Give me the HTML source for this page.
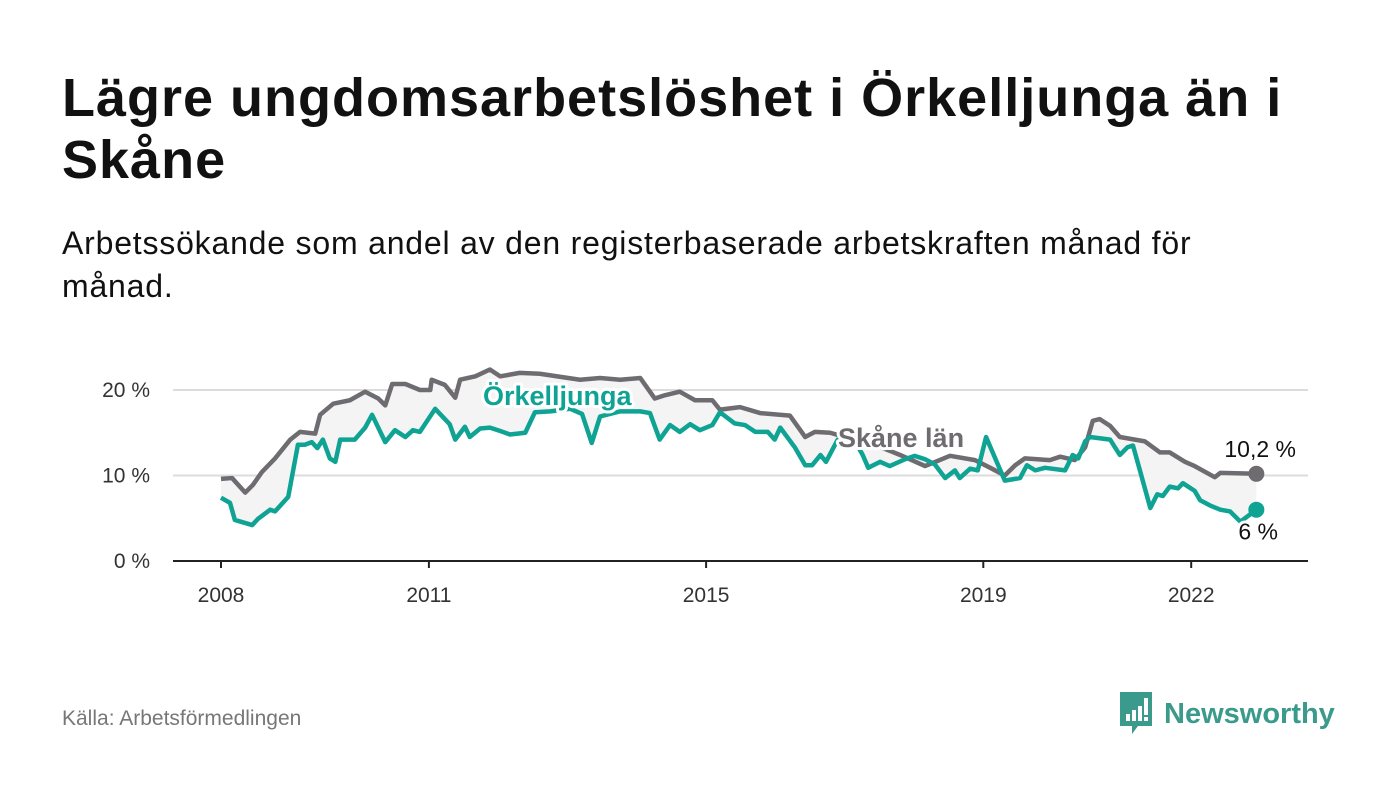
<!DOCTYPE html>
<html><head><meta charset="utf-8"><style>
body{margin:0;background:#fff;width:1400px;height:794px;overflow:hidden;font-family:"Liberation Sans",sans-serif;}
#title{position:absolute;left:62px;top:67px;font-size:54px;letter-spacing:1px;font-weight:bold;color:#111;line-height:62px;width:1260px;margin:0}
#sub{position:absolute;left:62px;top:222px;font-size:32px;letter-spacing:0.8px;color:#111;line-height:43px;width:1200px;margin:0}
#src{position:absolute;left:62px;top:707px;font-size:21px;color:#777}
#logo{position:absolute;left:1118px;top:692px;display:flex;align-items:center}
#logo span{font-size:29px;font-weight:bold;color:#3a9a8c;margin-left:10px}
svg text{font-family:"Liberation Sans",sans-serif}
</style></head><body>
<h1 id="title">Lägre ungdomsarbetslöshet i Örkelljunga än i Skåne</h1>
<p id="sub">Arbetssökande som andel av den registerbaserade arbetskraften månad för månad.</p>
<svg id="chart" width="1400" height="794" style="position:absolute;left:0;top:0"></svg>
<div id="src">Källa: Arbetsförmedlingen</div>
<div id="logo">
<svg width="36" height="44" viewBox="0 0 36 44"><path d="M2 0H34V34H20L14 42V34H2Z" fill="#3a9a8c"/><rect x="8" y="22" width="4" height="7" fill="#fff"/><rect x="14" y="18" width="4" height="11" fill="#fff"/><rect x="20" y="14" width="4" height="15" fill="#fff"/><rect x="26" y="6" width="4" height="17" fill="#fff"/><rect x="26" y="25" width="4" height="4" fill="#fff"/></svg>
<span>Newsworthy</span></div>
<script>
const skaneDates=[2008.00,2008.16,2008.35,2008.46,2008.59,2008.78,2009.00,2009.14,2009.36,2009.43,2009.62,2009.86,2010.08,2010.27,2010.37,2010.47,2010.66,2010.87,2011.02,2011.04,2011.23,2011.38,2011.45,2011.67,2011.88,2012.03,2012.31,2012.60,2013.18,2013.47,2013.76,2014.05,2014.26,2014.41,2014.62,2014.84,2015.09,2015.20,2015.49,2015.78,2016.21,2016.36,2016.43,2016.57,2016.79,2017.00,2017.37,2017.80,2018.16,2018.52,2018.88,2019.10,2019.31,2019.46,2019.60,2019.96,2020.11,2020.32,2020.47,2020.58,2020.68,2020.83,2020.97,2021.33,2021.55,2021.69,2021.91,2022.05,2022.34,2022.42,2022.94];
const skaneValues=[9.6,9.7,8.0,8.9,10.4,12.0,14.2,15.1,14.9,17.1,18.4,18.8,19.8,19.0,18.2,20.7,20.7,20.0,20.0,21.2,20.6,19.1,21.2,21.6,22.4,21.6,22.0,21.9,21.2,21.4,21.2,21.4,19.0,19.4,19.8,18.8,18.8,17.7,18.0,17.3,17.0,15.3,14.5,15.1,15.0,14.5,13.8,12.4,11.1,12.3,11.8,10.9,10.0,11.2,12.0,11.8,12.2,11.8,13.3,16.4,16.6,15.8,14.5,14.0,12.7,12.7,11.6,11.1,9.8,10.3,10.2];
const orkDates=[2008.00,2008.13,2008.20,2008.45,2008.53,2008.71,2008.78,2008.97,2009.11,2009.21,2009.31,2009.39,2009.47,2009.57,2009.65,2009.72,2009.93,2010.08,2010.18,2010.37,2010.51,2010.66,2010.77,2010.87,2011.09,2011.30,2011.38,2011.52,2011.59,2011.74,2011.88,2012.03,2012.17,2012.39,2012.53,2012.75,2013.04,2013.21,2013.35,2013.47,2013.76,2014.05,2014.19,2014.33,2014.48,2014.62,2014.77,2014.91,2015.09,2015.20,2015.41,2015.56,2015.71,2015.89,2015.99,2016.07,2016.28,2016.43,2016.53,2016.65,2016.73,2016.90,2017.08,2017.26,2017.34,2017.51,2017.65,2017.87,2018.01,2018.16,2018.30,2018.45,2018.59,2018.66,2018.81,2018.92,2019.04,2019.31,2019.53,2019.63,2019.75,2019.89,2020.18,2020.29,2020.37,2020.47,2020.54,2020.83,2020.90,2020.97,2021.08,2021.16,2021.26,2021.41,2021.51,2021.59,2021.69,2021.81,2021.88,2022.05,2022.13,2022.27,2022.42,2022.56,2022.71,2022.94];
const orkValues=[7.4,6.8,4.8,4.2,4.9,6.0,5.8,7.5,13.6,13.6,13.9,13.2,14.2,12.0,11.6,14.2,14.2,15.6,17.1,13.9,15.3,14.5,15.3,15.1,17.8,16.0,14.2,15.7,14.5,15.5,15.6,15.2,14.8,15.0,17.4,17.5,17.8,17.2,13.8,16.9,17.5,17.5,17.3,14.2,15.9,15.1,16.0,15.3,15.9,17.4,16.1,15.9,15.1,15.1,14.2,15.6,13.3,11.2,11.2,12.4,11.6,14.2,15.0,12.4,10.9,11.6,11.1,11.9,12.3,11.9,11.3,9.7,10.6,9.7,10.8,10.6,14.5,9.4,9.7,11.2,10.6,10.9,10.6,12.4,12.0,14.0,14.5,14.2,13.3,12.4,13.3,13.5,10.6,6.2,7.8,7.6,8.7,8.5,9.1,8.2,7.1,6.5,6.0,5.8,4.6,6.0];
const yTicks=[0,10,20];
const yTickLabels=["0 %","10 %","20 %"];
const xTicks=[2008,2011,2015,2019,2022];
const xTickLabels=["2008","2011","2015","2019","2022"];

const NS="http://www.w3.org/2000/svg";
const svg=document.getElementById('chart');
const X=d=>221+(d-2008)*69.3;
const Y=v=>561-v*8.55;
function mk(tag,attrs,parent){const e=document.createElementNS(NS,tag);for(const k in attrs)e.setAttribute(k,attrs[k]);(parent||svg).appendChild(e);return e;}

yTicks.forEach((t,i)=>{
  if(t>0){const g=mk('line',{x1:173,x2:1308,y1:Y(t),y2:Y(t),stroke:'#dcdcdc','stroke-width':2});
  
  }
  const l=mk('text',{x:150,y:Y(t)+7,'text-anchor':'end','font-size':21,fill:'#333'});
  l.textContent=yTickLabels[i];
  
  
});
let pts=skaneDates.map((d,i)=>X(d)+','+Y(skaneValues[i]));
for(let i=orkDates.length-1;i>=0;i--)pts.push(X(orkDates[i])+','+Y(orkValues[i]));
const band=mk('polygon',{points:pts.join(' '),fill:'#f4f4f5'});



const ax=mk('line',{x1:173,x2:1308,y1:561,y2:561,stroke:'#222','stroke-width':2});


xTicks.forEach((t,i)=>{
  const tk=mk('line',{x1:X(t),x2:X(t),y1:561,y2:568,stroke:'#222','stroke-width':2});
  
  
  const l=mk('text',{x:X(t),y:602,'text-anchor':'middle','font-size':21,fill:'#333'});
  l.textContent=xTickLabels[i];
  
  
});
function line(dates,vals,color,name){
  const p=mk('polyline',{points:dates.map((d,i)=>X(d)+','+Y(vals[i])).join(' '),fill:'none',stroke:color,'stroke-width':4.5,'stroke-linejoin':'round'});
  
  
  const n=dates.length-1;
  const c=mk('circle',{cx:X(dates[n]),cy:Y(vals[n]),r:8,fill:color});
  
  
}
line(skaneDates,skaneValues,'#6e6c70','skane-line');
line(orkDates,orkValues,'#0fa394','orkelljunga-line');

function label(txt,x,y,color,size,bold,name,anchor){
  const t=mk('text',{x:x,y:y,'font-size':size,'font-weight':bold?'bold':'normal',fill:color,stroke:'#fff','stroke-width':6,'paint-order':'stroke','stroke-linejoin':'round','text-anchor':anchor||'start'});
  t.textContent=txt;
  
  
}
label('Örkelljunga',483,405,'#0fa394',27,true,'orkelljunga-label');
label('Skåne län',838,447,'#6e6c70',27,true,'skane-label');
const ls=skaneValues.length-1, lo=orkValues.length-1;
label(skaneValues[ls].toString().replace('.',',')+' %',1296,Y(skaneValues[ls])-17,'#111',23,false,'skane-end-value','end');
label(orkValues[lo].toString().replace('.',',')+' %',1278,Y(orkValues[lo])+30,'#111',23,false,'orkelljunga-end-value','end');
</script>
</body></html>
